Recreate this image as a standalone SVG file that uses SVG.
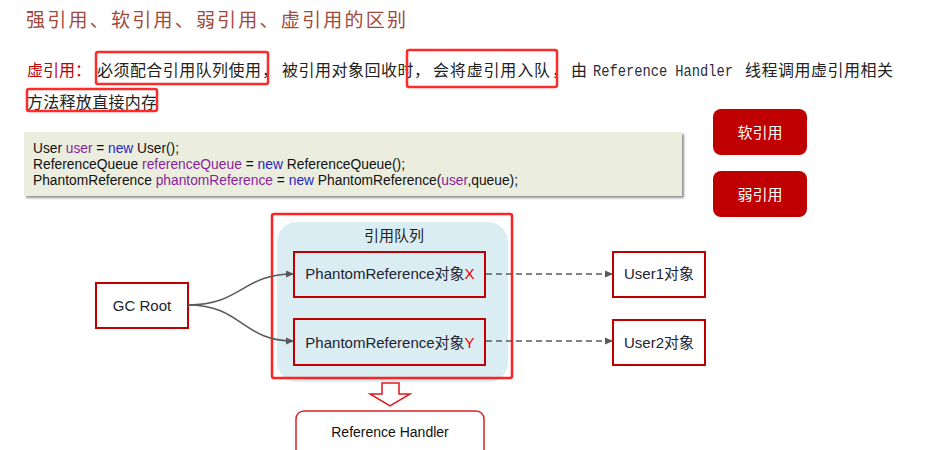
<svg xmlns="http://www.w3.org/2000/svg" width="930" height="450" viewBox="0 0 930 450">
<defs>
<style>
.cjk{font-family:"Noto Sans CJK SC","Liberation Sans",sans-serif;}
.sans{font-family:"Liberation Sans","Noto Sans CJK SC",sans-serif;}
.mono{font-family:"Liberation Mono","Noto Sans CJK SC",monospace;}
.hl{fill:none;stroke:#ff2b2b;stroke-width:2.5;}
.node{fill:#ffffff;stroke:#c00000;stroke-width:2;}
.qnode{fill:#daedf3;stroke:#c00000;stroke-width:2;}
.lbl{font-size:15px;fill:#1e2330;text-anchor:middle;}
.btn{fill:#c00000;}
.btntxt{font-size:15px;fill:#ffffff;text-anchor:middle;}
.conn{fill:none;stroke:#595959;stroke-width:1.5;}
.dash{stroke-dasharray:6 4;}
.p{fill:#8a1f9c;}
.k{fill:#2828c0;}
</style>
<marker id="ah" markerWidth="8" markerHeight="8" refX="7" refY="4" orient="auto" markerUnits="userSpaceOnUse">
<path d="M0,0.5 L8,4 L0,7.5 Z" fill="#595959"/>
</marker>
<filter id="sh" x="-5%" y="-10%" width="110%" height="130%">
<feDropShadow dx="2" dy="2" stdDeviation="1" flood-color="#777" flood-opacity="0.8"/>
</filter>
</defs>
<rect width="930" height="450" fill="#ffffff"/>

<g id="title">
<text class="cjk" x="26" y="27" font-size="19" fill="#9e4a3c" textLength="380" lengthAdjust="spacing">强引用、软引用、弱引用、虚引用的区别</text>
</g>

<g id="desc" class="cjk" font-size="16" fill="#222">
<text x="27" y="76" fill="#c00000" textLength="64" lengthAdjust="spacing">虚引用：</text>
<text x="97" y="76" textLength="164" lengthAdjust="spacing">必须配合引用队列使用</text>
<text x="262" y="76">，</text>
<text x="282" y="76" textLength="148" lengthAdjust="spacing">被引用对象回收时，</text>
<text x="433" y="76" textLength="117" lengthAdjust="spacing">会将虚引用入队</text>
<text x="552" y="76">，</text>
<text x="571" y="76">由</text>
<text class="mono" x="593" y="76" font-size="16" fill="#2a2f3a" textLength="140" lengthAdjust="spacingAndGlyphs">Reference Handler</text>
<text x="745" y="76" textLength="148" lengthAdjust="spacing">线程调用虚引用相关</text>
<text x="27" y="108" textLength="130" lengthAdjust="spacing">方法释放直接内存</text>
</g>

<g id="highlights">
<rect class="hl" x="96" y="52" width="172" height="32" rx="2"/>
<rect class="hl" x="407" y="50" width="150" height="37" rx="2"/>
<rect class="hl" x="27" y="89" width="130" height="22" rx="2"/>
</g>

<g id="code">
<rect x="24" y="132" width="658" height="64" fill="#ebeddf" filter="url(#sh)"/>
<g class="sans" font-size="14" fill="#111">
<text x="33" y="153" textLength="146" lengthAdjust="spacingAndGlyphs">User <tspan class="p">user</tspan> = <tspan class="k">new</tspan> User();</text>
<text x="33" y="169" textLength="372" lengthAdjust="spacingAndGlyphs">ReferenceQueue <tspan class="p">referenceQueue</tspan> = <tspan class="k">new</tspan> ReferenceQueue();</text>
<text x="33" y="185" textLength="485" lengthAdjust="spacingAndGlyphs">PhantomReference <tspan class="p">phantomReference</tspan> = <tspan class="k">new</tspan> PhantomReference(<tspan class="p">user</tspan>,queue);</text>
</g>
</g>

<g id="btn-soft">
<rect class="btn" x="713" y="109" width="94" height="46" rx="8"/>
<text class="cjk btntxt" x="760" y="137.5">软引用</text>
</g>
<g id="btn-weak">
<rect class="btn" x="713" y="171" width="94" height="46" rx="8"/>
<text class="cjk btntxt" x="760" y="200">弱引用</text>
</g>

<g id="queue">
<rect x="277" y="222" width="231" height="160" rx="20" fill="#daedf3"/>
<text class="cjk" x="394" y="241" font-size="15" fill="#222" text-anchor="middle">引用队列</text>
<rect x="272" y="214" width="240" height="164" rx="2" fill="none" stroke="#ff2222" stroke-width="2.5"/>
</g>

<g id="phantom-x">
<rect class="qnode" x="294" y="252" width="191" height="45"/>
<text class="sans lbl" x="390" y="278.5">PhantomReference对象<tspan fill="#e00000">X</tspan></text>
</g>
<g id="phantom-y">
<rect class="qnode" x="294" y="319" width="191" height="46"/>
<text class="sans lbl" x="390" y="347.5">PhantomReference对象<tspan fill="#e00000">Y</tspan></text>
</g>

<g id="gc-root">
<rect class="node" x="96" y="283" width="92" height="45"/>
<text class="sans lbl" x="142" y="311">GC Root</text>
</g>

<g id="user1">
<rect class="node" x="613" y="252" width="92" height="45"/>
<text class="sans lbl" x="659" y="279">User1对象</text>
</g>
<g id="user2">
<rect class="node" x="613" y="320" width="92" height="45"/>
<text class="sans lbl" x="659" y="347.5">User2对象</text>
</g>

<g id="handler">
<rect x="296" y="411" width="188" height="55" rx="8" fill="#ffffff" stroke="#d42424" stroke-width="1.5"/>
<text class="sans" x="390" y="437" font-size="14" fill="#111" text-anchor="middle">Reference Handler</text>
</g>

<g id="connectors">
<path class="conn" d="M188,305 C242,305 242,274 293,274" marker-end="url(#ah)"/>
<path class="conn" d="M188,305 C242,305 242,341 293,341" marker-end="url(#ah)"/>
<path class="conn dash" d="M486,274 L612,274" marker-end="url(#ah)"/>
<path class="conn dash" d="M486,341 L612,341" marker-end="url(#ah)"/>
<polygon points="382,383 399,383 399,394 410,394 390,406 370,394 382,394" fill="#ffffff" stroke="#e01818" stroke-width="1.5"/>
</g>
</svg>
